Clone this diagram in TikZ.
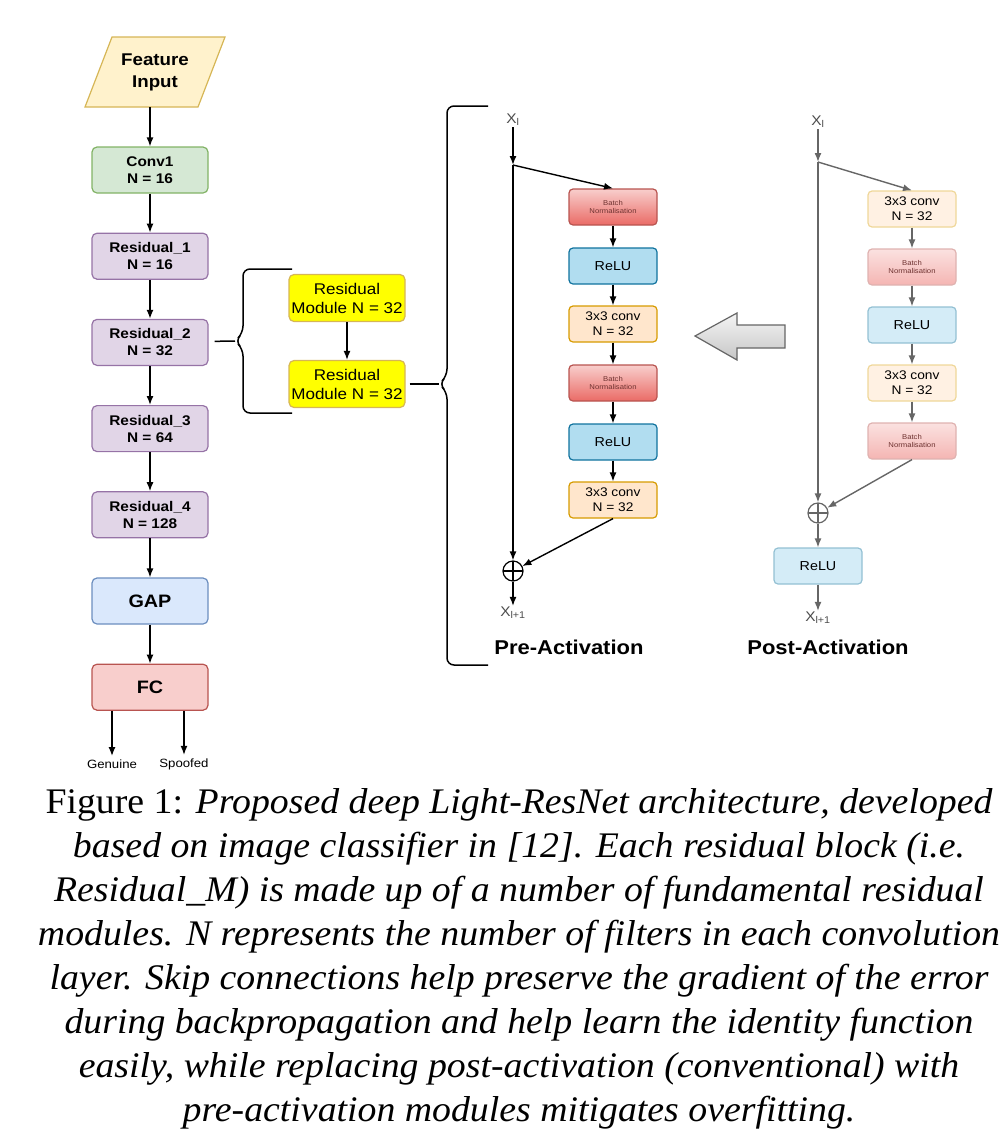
\documentclass[tikz,border=0pt]{standalone}
\usepackage{fontspec}
\setmainfont{Liberation Serif}
\newfontfamily\capfont[FakeStretch=1.05]{Liberation Serif}
\newfontfamily\arialf[FakeStretch=1.1]{Liberation Sans}
\usetikzlibrary{arrows.meta,positioning}

\definecolor{inpfill}{HTML}{FFF2CC}
\definecolor{inpline}{HTML}{D6B656}
\definecolor{grnfill}{HTML}{D5E8D4}
\definecolor{grnline}{HTML}{82B366}
\definecolor{purfill}{HTML}{E1D5E7}
\definecolor{purline}{HTML}{9673A6}
\definecolor{gapfill}{HTML}{DAE8FC}
\definecolor{gapline}{HTML}{6C8EBF}
\definecolor{redfill}{HTML}{F8CECC}
\definecolor{redline}{HTML}{B85450}
\definecolor{redgrad}{HTML}{EA6B66}
\definecolor{relufill}{HTML}{B1DDF0}
\definecolor{reluline}{HTML}{10739E}
\definecolor{convfill}{HTML}{FFE6CC}
\definecolor{convline}{HTML}{D79B00}
\definecolor{yelfill}{HTML}{FFFF00}
\definecolor{yelline}{HTML}{D6B656}
\definecolor{postgray}{HTML}{666666}

\tikzset{
  box/.style={draw, line width=1.2pt, rounded corners=5pt, minimum width=116pt,
    minimum height=46pt, inner sep=0pt, align=center,
    font=\arialf\bfseries\fontsize{14}{17}\selectfont},
  bigbox/.style={box, font=\arialf\bfseries\fontsize{18}{20}\selectfont},
  modbox/.style={box, fill=yelfill, draw=yelline, minimum height=47pt,
    font=\arialf\fontsize{15.5}{19}\selectfont},
  blk/.style={draw, line width=1.2pt, rounded corners=4pt, minimum width=88pt,
    minimum height=36pt, inner sep=0pt, align=center,
    font=\arialf\fontsize{12.5}{15}\selectfont},
  bnblk/.style={blk, top color=redfill, bottom color=redgrad, draw=redline,
    text=redline!60!black, font=\arialf\fontsize{7}{8}\selectfont},
  relublk/.style={blk, fill=relufill, draw=reluline, font=\arialf\fontsize{13}{15}\selectfont},
  convblk/.style={blk, fill=convfill, draw=convline},
  addop/.style={circle, draw, line width=1.2pt, minimum size=20pt, inner sep=0pt,
    path picture={\draw[line width=1.2pt] (path picture bounding box.north) -- (path picture bounding box.south)
      (path picture bounding box.west) -- (path picture bounding box.east);}},
  xlbl/.style={text=black!70, font=\arialf\fontsize{14}{16}\selectfont, inner sep=1pt},
  title/.style={font=\arialf\bfseries\fontsize{20}{24}\selectfont},
  arr/.style={->, line width=1.4pt},
  parr/.style={->, line width=1.4pt, postgray},
  brace/.style={line width=1.5pt, rounded corners=7pt},
}

\begin{document}
\begin{tikzpicture}[x=1pt, y=-1pt, >={Latex[length=9pt,width=7pt]}, node distance=39pt]
	\useasboundingbox (0,0) rectangle (1005,1141);

	% 1. Main network column
	\filldraw[fill=inpfill, draw=inpline, line width=1.2pt] (112,37) -- (225,37) -- (198,107) -- (85,107) -- cycle;
	\node[font=\arialf\bfseries\fontsize{17}{22}\selectfont, align=center] (inp) at (155,72) {Feature\\Input};
	\coordinate (inpb) at (150,107);

	\node[box, fill=grnfill, draw=grnline] (conv) at (150,170) {Conv1\\N = 16};
	\node[box, fill=purfill, draw=purline, below=of conv] (res1) {Residual\_1\\N = 16};
	\node[box, fill=purfill, draw=purline, below=of res1] (res2) {Residual\_2\\N = 32};
	\node[box, fill=purfill, draw=purline, below=of res2] (res3) {Residual\_3\\N = 64};
	\node[box, fill=purfill, draw=purline, below=of res3] (res4) {Residual\_4\\N = 128};
	\node[bigbox, fill=gapfill, draw=gapline, below=of res4] (gap) {GAP};
	\node[bigbox, fill=redfill, draw=redline, below=of gap] (fc) {FC};

	\node[font=\arialf\fontsize{12}{14}\selectfont] (gen) at (112,764) {Genuine};
	\node[font=\arialf\fontsize{12}{14}\selectfont] (spf) at (184,764) {Spoofed};

	\draw[arr] (inpb) -- (conv);
	\draw[arr] (conv) -- (res1);
	\draw[arr] (res1) -- (res2);
	\draw[arr] (res2) -- (res3);
	\draw[arr] (res3) -- (res4);
	\draw[arr] (res4) -- (gap);
	\draw[arr] (gap) -- (fc);
	\draw[arr] (fc.south -| gen) -- (gen.north);
	\draw[arr] (fc.south -| spf) -- (spf.north);

	% 2. Residual modules of one block
	\node[modbox] (mod1) at (347,298) {Residual\\Module N = 32};
	\node[modbox] (mod2) at (347,384) {Residual\\Module N = 32};
	\draw[arr] (mod1) -- (mod2);

	\coordinate (bra) at (235,341);
	\draw[brace] (292,269) -- (243,269) -- (243,333) -- (bra) -- (243,349) -- (243,413) -- (292,413);
	\draw[line width=1.5pt, shorten <=6pt] (res2) -- (bra);

	\coordinate (brb) at (439,384);
	\draw[brace] (488,106) -- (447,106) -- (447,376) -- (brb) -- (447,392) -- (447,665) -- (488,665);
	\draw[line width=1.5pt, shorten <=4pt] (mod2) -- (brb);

	% 3. Pre-activation module
	\node[xlbl] (xa) at (513,120) {X\textsubscript{l}};
	\coordinate (sa) at (513,165);
	\node[bnblk] (bn1) at (613,207) {Batch\\Normalisation};
	\node[relublk] (relu1) at (613,266) {ReLU};
	\node[convblk] (cv1) at (613,324) {3x3 conv\\N = 32};
	\node[bnblk] (bn2) at (613,383) {Batch\\Normalisation};
	\node[relublk] (relu2) at (613,442) {ReLU};
	\node[convblk] (cv2) at (613,500) {3x3 conv\\N = 32};
	\node[addop] (add1) at (513,571) {};
	\node[xlbl] (xb) at (513,613) {X\textsubscript{l+1}};
	\node[title] (pret) at (569,647) {Pre-Activation};

	\draw[arr] (xa) -- (sa);
	\draw[arr] (sa) -- (add1);
	\draw[arr] (sa) -- (bn1.north);
	\draw[arr] (bn1) -- (relu1);
	\draw[arr] (relu1) -- (cv1);
	\draw[arr] (cv1) -- (bn2);
	\draw[arr] (bn2) -- (relu2);
	\draw[arr] (relu2) -- (cv2);
	\draw[arr] (cv2.south) -- (add1);
	\draw[arr] (add1) -- (xb);

	% 4. Big grey arrow
	\draw[line width=1.2pt, draw=gray!80!black, top color=gray!8, bottom color=gray!45]
		(695,336) -- (737,313) -- (737,325) -- (785,325) -- (785,348) -- (737,348) -- (737,360) -- cycle;

	% 5. Post-activation module
	\node[xlbl] (xc) at (818,122) {X\textsubscript{l}};
	\coordinate (sc) at (818,162);
	\node[convblk, fill=convfill!55!white, draw=convline!40!white] (pcv1) at (912,209) {3x3 conv\\N = 32};
	\node[bnblk, top color=redfill!60!white, bottom color=redgrad!50!white, draw=redline!45!white] (pbn1) at (912,267) {Batch\\Normalisation};
	\node[relublk, fill=relufill!55!white, draw=reluline!45!white] (prelu1) at (912,325) {ReLU};
	\node[convblk, fill=convfill!55!white, draw=convline!40!white] (pcv2) at (912,383) {3x3 conv\\N = 32};
	\node[bnblk, top color=redfill!60!white, bottom color=redgrad!50!white, draw=redline!45!white] (pbn2) at (912,441) {Batch\\Normalisation};
	\node[addop, draw=postgray, path picture={\draw[line width=1.2pt, postgray] (path picture bounding box.north) -- (path picture bounding box.south)
		(path picture bounding box.west) -- (path picture bounding box.east);}] (add2) at (818,513) {};
	\node[relublk, fill=relufill!55!white, draw=reluline!45!white] (prelu2) at (818,566) {ReLU};
	\node[xlbl] (xd) at (818,618) {X\textsubscript{l+1}};
	\node[title] (postt) at (828,647) {Post-Activation};

	\draw[parr] (xc) -- (sc);
	\draw[parr] (sc) -- (add2);
	\draw[parr] (sc) -- (pcv1.north);
	\draw[parr] (pcv1) -- (pbn1);
	\draw[parr] (pbn1) -- (prelu1);
	\draw[parr] (prelu1) -- (pcv2);
	\draw[parr] (pcv2) -- (pbn2);
	\draw[parr] (pbn2.south) -- (add2);
	\draw[parr] (add2) -- (prelu2);
	\draw[parr] (prelu2) -- (xd);

	% 6. Caption
	\node[font=\capfont\fontsize{36}{44}\selectfont\itshape, align=center, inner sep=0pt] (cap) at (519,959)
		{{\upshape Figure 1:} Proposed deep Light-ResNet architecture, developed\\
		based on image classifier in [12]. Each residual block (i.e.\\
		Residual\_M) is made up of a number of fundamental residual\\
		modules. N represents the number of filters in each convolution\\
		layer. Skip connections help preserve the gradient of the error\\
		during backpropagation and help learn the identity function\\
		easily, while replacing post-activation (conventional) with\\
		pre-activation modules mitigates overfitting.};
\end{tikzpicture}
\end{document}
